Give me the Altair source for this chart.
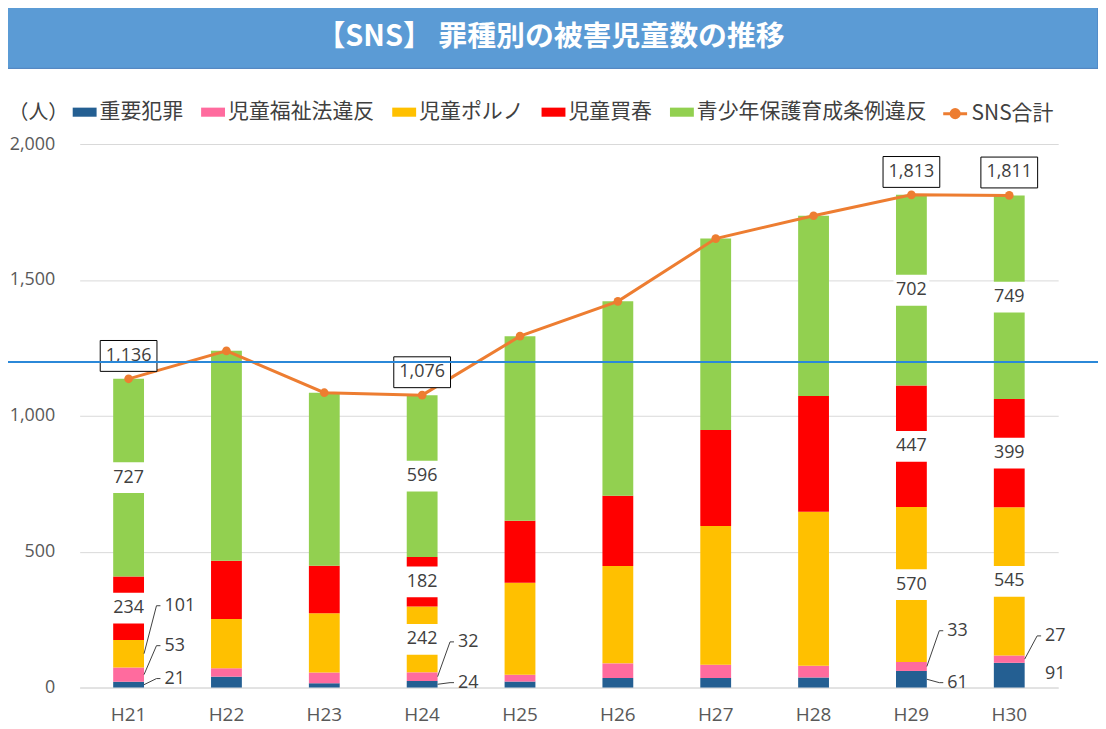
import altair as alt
import pandas as pd

# ---------------- data ----------------
years = ["H21", "H22", "H23", "H24", "H25", "H26", "H27", "H28", "H29", "H30"]
series_names = ["重要犯罪", "児童福祉法違反", "児童ポルノ", "児童買春", "青少年保護育成条例違反"]
juyo = [21, 40, 16, 24, 22, 35, 35, 37, 61, 91]
fukushi = [53, 31, 39, 32, 25, 54, 49, 43, 33, 27]
porno = [101, 181, 218, 242, 339, 358, 510, 567, 570, 545]
baishun = [234, 215, 175, 182, 228, 259, 354, 426, 447, 399]
seishonen = [727, 772, 637, 596, 679, 715, 704, 663, 702, 749]
totals = [1136, 1239, 1085, 1076, 1293, 1421, 1652, 1736, 1813, 1811]
total_name = "SNS合計"
title_text = "【SNS】 罪種別の被害児童数の推移"
y_ticks = [0, 500, 1000, 1500, 2000]

# which values carry a label
boxed_total_years = ["H21", "H24", "H29", "H30"]
inside_labels = [
    ("H21", "児童買春"), ("H21", "青少年保護育成条例違反"),
    ("H24", "児童ポルノ"), ("H24", "児童買春"), ("H24", "青少年保護育成条例違反"),
    ("H29", "児童ポルノ"), ("H29", "児童買春"), ("H29", "青少年保護育成条例違反"),
    ("H30", "児童ポルノ"), ("H30", "児童買春"), ("H30", "青少年保護育成条例違反"),
]
# leader-line labels: (year, series, label level on value axis, has line)
leader_labels = [
    ("H21", "児童ポルノ", 301, True),
    ("H21", "児童福祉法違反", 154, True),
    ("H21", "重要犯罪", 33, True),
    ("H24", "児童福祉法違反", 168, True),
    ("H24", "重要犯罪", 18, True),
    ("H29", "児童福祉法違反", 209, True),
    ("H29", "重要犯罪", 18, True),
    ("H30", "児童福祉法違反", 190, True),
    ("H30", "重要犯罪", 51, False),
]

bar_colors = ["#245F92", "#FF6B9E", "#FFC000", "#FF0000", "#92D050"]
line_color = "#ED7D31"

# ---------------- tables ----------------
values_by_series = [juyo, fukushi, porno, baishun, seishonen]
rows = []
for i, yr in enumerate(years):
    base = 0
    for s, vals in zip(series_names, values_by_series):
        v = vals[i]
        rows.append({"year": yr, "series": s, "value": v, "y0": base, "y1": base + v,
                     "mid": base + v / 2, "label": f"{v:,}"})
        base += v
df = pd.DataFrame(rows)

tot = pd.DataFrame({"year": years, "total": totals, "series": [total_name] * len(years),
                    "label": [f"{t:,}" for t in totals]})
tot_boxed = tot[tot["year"].isin(boxed_total_years)]

inside = pd.concat([df[(df.year == y) & (df.series == s)] for y, s in inside_labels])
lead_rows = []
for y, s, ly, has_line in leader_labels:
    r = df[(df.year == y) & (df.series == s)].iloc[0]
    lead_rows.append({"year": y, "mid": r["mid"], "ly": ly, "label": r["label"], "line": has_line})
lead = pd.DataFrame(lead_rows)
lead_lines = lead[lead["line"]]

one = pd.DataFrame({"t": [title_text]})

# ---------------- scales / axes ----------------
W, H = 983, 546
FONT_NUM = "Open Sans"
FONT_JP = "Noto Sans CJK JP"
TXT = "#404040"

xscale = alt.Scale(domain=years, paddingInner=0.685, paddingOuter=0.3425)
yscale = alt.Scale(domain=[0, 2000], nice=False)

xaxis = alt.Axis(title=None, labelFont=FONT_NUM, labelFontSize=19, labelColor="#595959",
                 labelPadding=18, ticks=False, domainColor="#D9D9D9", grid=False, labelAngle=0)
yaxis = alt.Axis(values=y_ticks, format=",.0f", grid=True, gridColor="#D9D9D9", domain=False,
                 ticks=False, labelPadding=25, labelFont=FONT_NUM, labelFontSize=18,
                 labelColor="#595959", title="（人）", titleAngle=0, titleX=-72, titleY=-32,
                 titleAlign="left", titleBaseline="middle", titleFont=FONT_JP,
                 titleFontSize=20, titleFontWeight="normal", titleColor=TXT)

bar_legend = alt.Legend(
    title=None, orient="none", legendX=-7, legendY=-44, direction="horizontal",
    labelFont=FONT_JP, labelFontSize=21, labelColor=TXT, symbolType="M-1,-0.38H1V0.38H-1Z",
    symbolSize=576, labelOffset=3, columnPadding=18, padding=0, symbolStrokeWidth=0,
    symbolOpacity=1, labelLimit=400,
)
line_legend = alt.Legend(
    title=None, orient="none", legendX=866, legendY=-44, direction="horizontal",
    labelFont=FONT_JP, labelFontSize=21, labelColor=TXT,
    symbolType="M-1,0H1M-0.34,0A0.34,0.34 0 1,0 0.34,0A0.34,0.34 0 1,0 -0.34,0Z",
    symbolSize=576, labelOffset=3, padding=0, symbolStrokeWidth=3,
    symbolFillColor=line_color, symbolStrokeColor=line_color, symbolOpacity=1, labelLimit=400,
)

X = alt.X("year:N", scale=xscale, axis=xaxis, sort=years)
color = alt.Color("series:N", scale=alt.Scale(domain=series_names, range=bar_colors),
                  legend=bar_legend, sort=series_names)
stroke = alt.Stroke("series:N", scale=alt.Scale(domain=[total_name], range=[line_color]),
                    legend=line_legend)

# ---------------- layers ----------------
banner = alt.Chart(one).mark_rect(fill="#5B9BD5", stroke="#4A7EBB", strokeWidth=1).encode(
    x=alt.value(-75), x2=alt.value(1023), y=alt.value(-141), y2=alt.value(-76))
title = alt.Chart(one).mark_text(font=FONT_JP, fontSize=29, fontWeight="bold", color="white",
                                 align="center", baseline="middle").encode(
    x=alt.value(473), y=alt.value(-107), text="t:N")

bars = alt.Chart(df).mark_bar(strokeWidth=0).encode(
    x=X, y=alt.Y("y0:Q", scale=yscale, axis=yaxis), y2="y1:Q", color=color)

in_box = alt.Chart(inside).mark_point(shape="M-1,-0.86H1V0.86H-1Z", size=1296, filled=True,
                                      fill="white", strokeWidth=0, opacity=1).encode(
    x=X, y=alt.Y("mid:Q", scale=yscale))
in_txt = alt.Chart(inside).mark_text(font=FONT_NUM, fontSize=18, color=TXT, baseline="middle").encode(
    x=X, y=alt.Y("mid:Q", scale=yscale), text="label:N")

lead_rule = alt.Chart(lead_lines).mark_rule(xOffset=15.5, x2Offset=28, color="#404040", strokeWidth=1).encode(
    x=X, x2="year:N", y=alt.Y("mid:Q", scale=yscale), y2="ly:Q")
lead_tick = alt.Chart(lead_lines).mark_rule(xOffset=28, x2Offset=32, color="#404040", strokeWidth=1).encode(
    x=X, x2="year:N", y=alt.Y("ly:Q", scale=yscale))
lead_txt = alt.Chart(lead).mark_text(font=FONT_NUM, fontSize=18, color=TXT, align="left",
                                     baseline="middle", dx=36).encode(
    x=X, y=alt.Y("ly:Q", scale=yscale), text="label:N")

line = alt.Chart(tot).mark_line(strokeWidth=3).encode(
    x=X, y=alt.Y("total:Q", scale=yscale), stroke=stroke)
dots = alt.Chart(tot).mark_point(filled=True, size=75, opacity=1, color=line_color).encode(
    x=X, y=alt.Y("total:Q", scale=yscale))

tot_box = alt.Chart(tot_boxed).mark_point(shape="M-1,-0.544H1V0.544H-1Z", size=3249, filled=True,
                                          fill="white", stroke="black", strokeWidth=1, opacity=1,
                                          yOffset=-23).encode(
    x=X, y=alt.Y("total:Q", scale=yscale))
tot_txt = alt.Chart(tot_boxed).mark_text(font=FONT_NUM, fontSize=18, color=TXT, baseline="middle",
                                         dy=-23).encode(
    x=X, y=alt.Y("total:Q", scale=yscale), text="label:N")

artifact = alt.Chart(one).mark_rule(color="#2B88D8", strokeWidth=2).encode(
    x=alt.value(-80), x2=alt.value(1030), y=alt.value(219))

chart = alt.layer(
    banner, title, bars, in_box, in_txt, lead_rule, lead_tick, lead_txt,
    line, dots, tot_box, tot_txt, artifact
).properties(
    width=W, height=H,
    autosize=alt.AutoSizeParams(type="none"),
    padding={"left": 72, "top": 135, "right": 40, "bottom": 40},
).configure(background="white").configure_view(stroke=None)

chart.save("out.html", embed_options={"renderer": "svg", "actions": False})
